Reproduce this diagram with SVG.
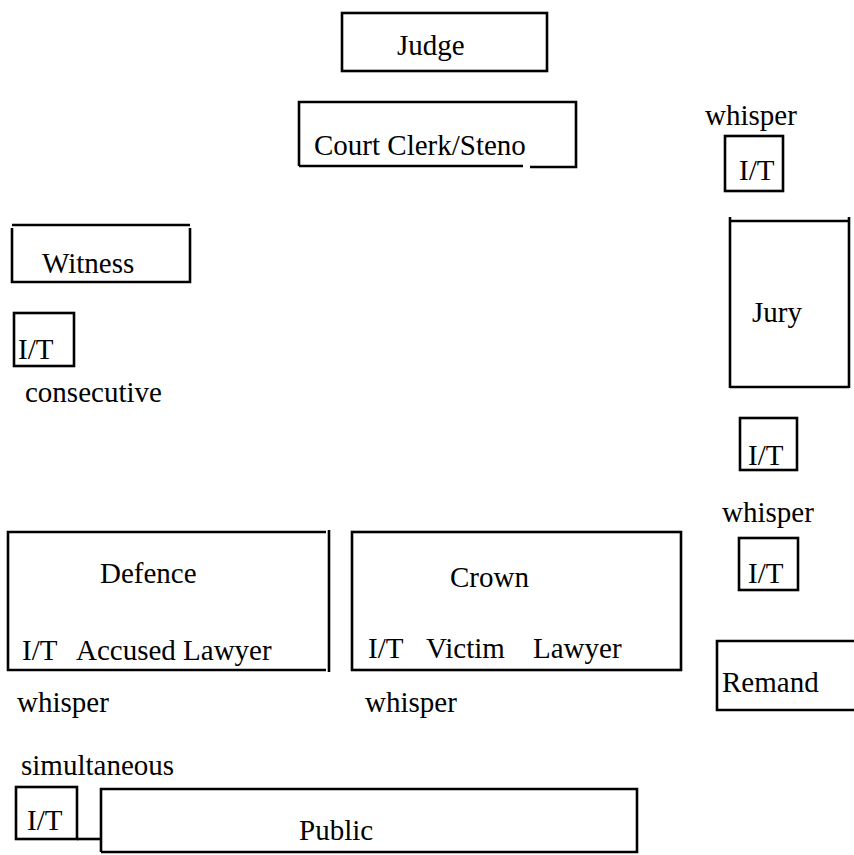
<svg xmlns="http://www.w3.org/2000/svg" width="854" height="855" viewBox="0 0 854 855">
<style>
.box{fill:none;stroke:#000;stroke-width:2.6}
text{font-size:29px;fill:#000}
.conn{stroke:#000;stroke-width:2.6;fill:none}
</style>
<rect width="854" height="855" fill="#fff"/>
<g font-family="Liberation Serif, DejaVu Serif, Times New Roman, serif">
<g id="judge"><rect class="box" x="342" y="13" width="205" height="58"/><text x="397" y="55">Judge</text></g>
<g id="clerk"><path class="box" d="M299,166 V102 H576 V167 H530 M523,166 H299"/><text x="314" y="155">Court Clerk/Steno</text></g>
<g id="it-jury-top"><text x="705" y="125">whisper</text><rect class="box" x="725" y="136" width="58" height="55"/><text x="739" y="180">I/T</text></g>
<g id="jury"><path class="box" d="M730,217 V388 M849,217 V388 M730,221 H849 M730,387 H849"/><text x="752" y="322">Jury</text></g>
<g id="witness"><path class="box" d="M12,225 H190 M12,228 V282 H190 V228"/><text x="42" y="273">Witness</text></g>
<g id="it-witness"><rect class="box" x="14" y="313" width="60" height="53"/><text x="18" y="359">I/T</text><text x="25" y="402" font-size="29.5">consecutive</text></g>
<g id="it-jury-bottom"><rect class="box" x="740" y="418" width="57" height="52"/><text x="748" y="465">I/T</text></g>
<g id="it-remand"><text x="722" y="522">whisper</text><rect class="box" x="739" y="538" width="59" height="52"/><text x="748" y="583">I/T</text></g>
<g id="defence"><path class="box" d="M326,532 H8 V670 H326 M329,530 V672"/><text x="100" y="583">Defence</text><text x="22" y="660">I/T</text><text x="76" y="660">Accused Lawyer</text><text x="17" y="712">whisper</text></g>
<g id="crown"><rect class="box" x="352" y="532" width="329" height="138"/><text x="450" y="587">Crown</text><text x="368" y="658">I/T</text><text x="426" y="658">Victim</text><text x="533" y="658">Lawyer</text><text x="365" y="712">whisper</text></g>
<g id="remand"><path class="box" d="M856,641 H717 V710 H856"/><text x="722" y="692">Remand</text></g>
<g id="it-public"><text x="21" y="775">simultaneous</text><rect class="box" x="16" y="787" width="61" height="52"/><text x="27" y="830">I/T</text></g>
<g id="public"><path class="box" d="M101,852 V789 H637 V852 H101"/><text x="299" y="840">Public</text></g>
</g>
<g id="connectors"><line class="conn" x1="77" y1="839" x2="101" y2="839"/></g>
</svg>
